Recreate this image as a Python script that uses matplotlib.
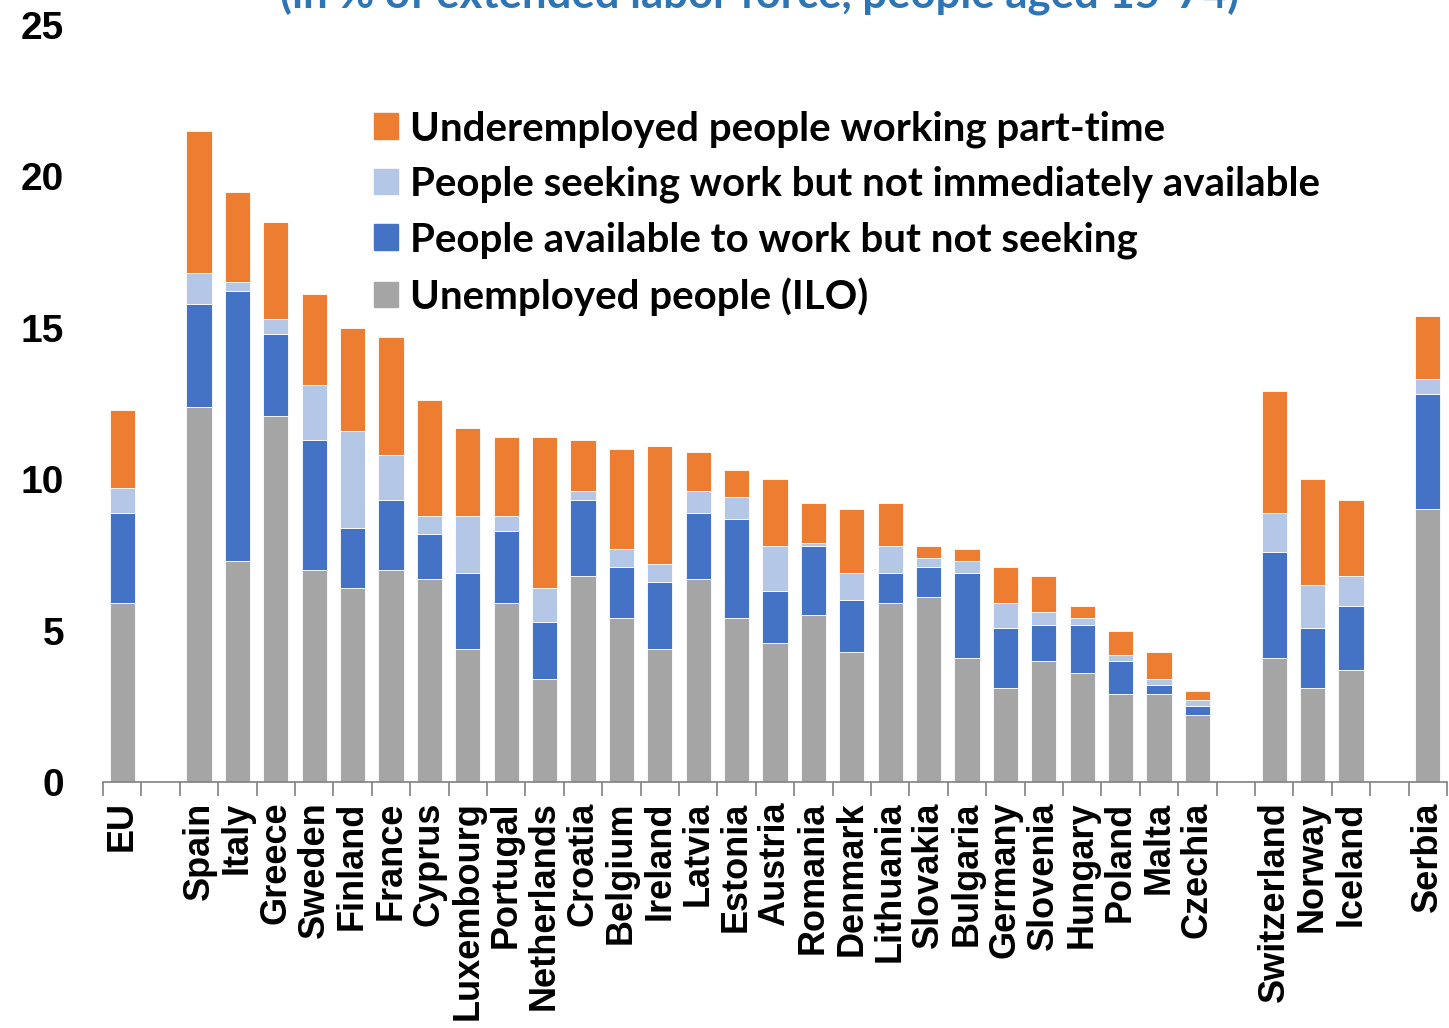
import numpy as np
import matplotlib
matplotlib.use("Agg")
import matplotlib.pyplot as plt
from matplotlib.patches import Patch

countries = ["EU",
             "Spain", "Italy", "Greece", "Sweden", "Finland", "France", "Cyprus",
             "Luxembourg", "Portugal", "Netherlands", "Croatia", "Belgium", "Ireland",
             "Latvia", "Estonia", "Austria", "Romania", "Denmark", "Lithuania",
             "Slovakia", "Bulgaria", "Germany", "Slovenia", "Hungary", "Poland",
             "Malta", "Czechia",
             "Switzerland", "Norway", "Iceland",
             "Serbia"]
# bars per group, groups are separated by one empty slot
group_sizes = [1, 27, 3, 1]

unemployed = [5.9,
              12.4, 7.3, 12.1, 7.0, 6.4, 7.0, 6.7, 4.4, 5.9, 3.4, 6.8, 5.4, 4.4,
              6.7, 5.4, 4.6, 5.5, 4.3, 5.9, 6.1, 4.1, 3.1, 4.0, 3.6, 2.9, 2.9, 2.2,
              4.1, 3.1, 3.7,
              9.0]
available_not_seeking = [3.0,
                         3.4, 8.9, 2.7, 4.3, 2.0, 2.3, 1.5, 2.5, 2.4, 1.9, 2.5, 1.7, 2.2,
                         2.2, 3.3, 1.7, 2.3, 1.7, 1.0, 1.0, 2.8, 2.0, 1.2, 1.6, 1.1, 0.3, 0.3,
                         3.5, 2.0, 2.1,
                         3.8]
seeking_not_available = [0.8,
                         1.0, 0.3, 0.5, 1.8, 3.2, 1.5, 0.6, 1.9, 0.5, 1.1, 0.3, 0.6, 0.6,
                         0.7, 0.7, 1.5, 0.1, 0.9, 0.9, 0.3, 0.4, 0.8, 0.4, 0.2, 0.2, 0.2, 0.2,
                         1.3, 1.4, 1.0,
                         0.5]
underemployed_pt = [2.6,
                    4.7, 3.0, 3.2, 3.0, 3.4, 3.9, 3.8, 2.9, 2.6, 5.0, 1.7, 3.3, 3.9,
                    1.3, 0.9, 2.2, 1.3, 2.1, 1.4, 0.4, 0.4, 1.2, 1.2, 0.4, 0.8, 0.9, 0.3,
                    4.0, 3.5, 2.5,
                    2.1]

c_gray = "#A5A5A5"
c_blue = "#4472C4"
c_light = "#B4C7E7"
c_orange = "#ED7D31"

# slot positions with a gap between groups
pos = []
slot = 0
for g in group_sizes:
    for i in range(g):
        pos.append(slot)
        slot += 1
    slot += 1
n_slots = slot - 1
x = np.array(pos) + 0.5

fig = plt.figure(figsize=(14.49, 10.28), dpi=100)
ax = fig.add_axes([103 / 1449, 1 - 782 / 1028, 1344 / 1449, 757 / 1028])

w = 0.66
bottom = np.zeros(len(countries))
for vals, col in [(unemployed, c_gray), (available_not_seeking, c_blue),
                  (seeking_not_available, c_light), (underemployed_pt, c_orange)]:
    ax.bar(x, vals, w, bottom=bottom, color=col, edgecolor="white", linewidth=0.6)
    bottom += np.array(vals)

ax.set_xlim(0, n_slots)
ax.set_ylim(0, 25)
ax.set_yticks([0, 5, 10, 15, 20, 25])
ax.set_yticklabels(["0", "5", "10", "15", "20", "25"], fontsize=28,
                   fontweight="bold", family="Liberation Sans")
ax.tick_params(axis="y", length=0, pad=28)

ax.set_xticks(np.arange(0, n_slots + 1))
ax.set_xticklabels([])
ax.tick_params(axis="x", direction="out", length=10, color="#808080", width=1.2)
ax.set_xticks(x, minor=True)
ax.set_xticklabels(countries, minor=True, rotation=90, fontsize=26,
                   fontweight="bold", family="Liberation Sans", va="top", ha="center")
ax.tick_params(axis="x", which="minor", length=0, pad=14)

for s in ["top", "right", "left"]:
    ax.spines[s].set_visible(False)
ax.spines["bottom"].set_color("#808080")
ax.spines["bottom"].set_linewidth(1.2)

handles = [Patch(color=c_orange), Patch(color=c_light), Patch(color=c_blue), Patch(color=c_gray)]
labels = ["Underemployed people working part-time",
          "People seeking work but not immediately available",
          "People available to work but not seeking",
          "Unemployed people (ILO)"]
ax.legend(handles, labels, loc="upper left", bbox_to_anchor=(374 / 1449, 1 - 110 / 1028),
          bbox_transform=fig.transFigure, frameon=False,
          prop={"family": "Lato", "weight": "bold", "size": 29},
          handlelength=0.6, handleheight=0.6, handletextpad=0.3, labelspacing=0.45,
          borderpad=0, borderaxespad=0)

fig.text(760 / 1449, 1 - 8 / 1028, "(in % of extended labor force, people aged 15-74)",
         ha="center", va="baseline", fontsize=31.5, fontweight="bold",
         family="Lato", color="#2E75B6")

fig.savefig("out.png", dpi=100)
